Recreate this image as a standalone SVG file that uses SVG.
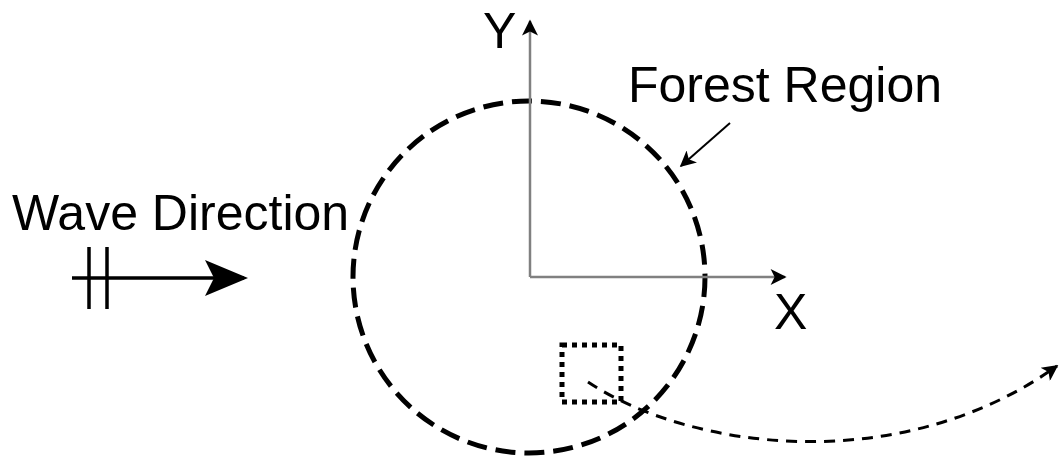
<svg xmlns="http://www.w3.org/2000/svg" width="1060" height="460" viewBox="0 0 1060 460">
<style>
text{font-family:"Liberation Sans",Arial,sans-serif;font-size:50px;fill:#000}
.axis{stroke:#808080;stroke-width:2.5;fill:none}
</style>
<defs>
<marker id="ah" viewBox="0 0 10 10" refX="9" refY="5" markerWidth="18" markerHeight="16" markerUnits="userSpaceOnUse" orient="auto">
<path d="M0,0 L10,5 L0,10 L2.5,5 Z" fill="#000"/>
</marker>
<marker id="ahs" viewBox="0 0 10 10" refX="9" refY="5" markerWidth="16" markerHeight="16" markerUnits="userSpaceOnUse" orient="auto">
<path d="M0,0 L10,5 L0,10 L2.5,5 Z" fill="#000"/>
</marker>
</defs>
<rect width="1060" height="460" fill="#fff"/>
<g id="forest">
<circle cx="529" cy="277" r="176" fill="none" stroke="#000" stroke-width="5" stroke-dasharray="20 9"/>
</g>
<g id="axes">
<line class="axis" x1="530" y1="277" x2="530" y2="21" marker-end="url(#ah)"/>
<line class="axis" x1="530" y1="277" x2="785" y2="277" marker-end="url(#ah)"/>
<text x="483" y="48">Y</text>
<text x="774" y="329">X</text>
</g>
<g id="wave">
<text x="12" y="230">Wave Direction</text>
<line x1="72" y1="278" x2="244" y2="278" stroke="#000" stroke-width="3.5"/>
<path d="M205,260 L248,278 L205,296 L214,278 Z" fill="#000"/>
<line x1="89" y1="247" x2="89" y2="309" stroke="#000" stroke-width="3.5"/>
<line x1="107" y1="247" x2="107" y2="309" stroke="#000" stroke-width="3.5"/>
</g>
<g id="label">
<text x="628" y="102">Forest Region</text>
</g>
<g id="subregion">
<rect x="562" y="345" width="59" height="57" fill="none" stroke="#000" stroke-width="5" stroke-dasharray="5 5"/>
</g>
<g id="connectors">
<line x1="730" y1="123" x2="681" y2="166" stroke="#000" stroke-width="2" marker-end="url(#ahs)"/>
<path d="M588,382 C690,450 900,478 1057,366" fill="none" stroke="#000" stroke-width="3" stroke-dasharray="11 8" marker-end="url(#ah)"/>
</g>
</svg>
